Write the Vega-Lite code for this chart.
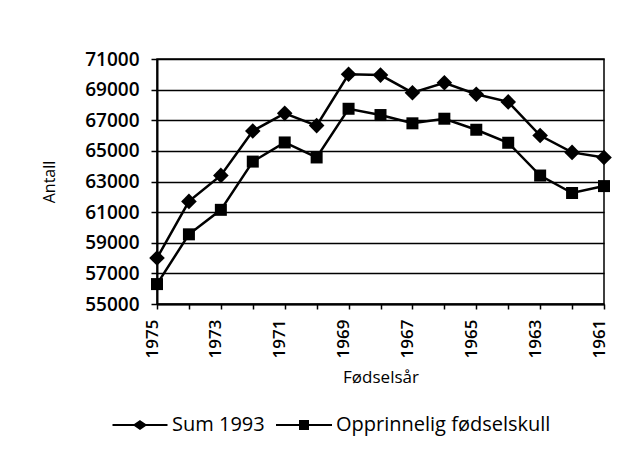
{
  "$schema": "https://vega.github.io/schema/vega-lite/v6.json",
  "width": 447,
  "height": 245,
  "autosize": {"type": "none"},
  "padding": {"left": 157, "top": 59, "right": 40, "bottom": 147},
  "background": "white",
  "config": {
    "font": "Open Sans",
    "view": {"stroke": "black", "strokeWidth": 1.5},
    "axis": {"labelColor": "black", "titleColor": "black", "domainColor": "black", "tickColor": "black", "gridColor": "black"}
  },
  "data": {
    "values": [
      {"year": 1975, "series": "Sum 1993", "value": 58000},
      {"year": 1974, "series": "Sum 1993", "value": 61700},
      {"year": 1973, "series": "Sum 1993", "value": 63400},
      {"year": 1972, "series": "Sum 1993", "value": 66300},
      {"year": 1971, "series": "Sum 1993", "value": 67450},
      {"year": 1970, "series": "Sum 1993", "value": 66650},
      {"year": 1969, "series": "Sum 1993", "value": 70000},
      {"year": 1968, "series": "Sum 1993", "value": 69950},
      {"year": 1967, "series": "Sum 1993", "value": 68800},
      {"year": 1966, "series": "Sum 1993", "value": 69450},
      {"year": 1965, "series": "Sum 1993", "value": 68700},
      {"year": 1964, "series": "Sum 1993", "value": 68200},
      {"year": 1963, "series": "Sum 1993", "value": 66000},
      {"year": 1962, "series": "Sum 1993", "value": 64900},
      {"year": 1961, "series": "Sum 1993", "value": 64570},
      {"year": 1975, "series": "Opprinnelig fødselskull", "value": 56300},
      {"year": 1974, "series": "Opprinnelig fødselskull", "value": 59550},
      {"year": 1973, "series": "Opprinnelig fødselskull", "value": 61150},
      {"year": 1972, "series": "Opprinnelig fødselskull", "value": 64300},
      {"year": 1971, "series": "Opprinnelig fødselskull", "value": 65550},
      {"year": 1970, "series": "Opprinnelig fødselskull", "value": 64570},
      {"year": 1969, "series": "Opprinnelig fødselskull", "value": 67750},
      {"year": 1968, "series": "Opprinnelig fødselskull", "value": 67340},
      {"year": 1967, "series": "Opprinnelig fødselskull", "value": 66800},
      {"year": 1966, "series": "Opprinnelig fødselskull", "value": 67100},
      {"year": 1965, "series": "Opprinnelig fødselskull", "value": 66380},
      {"year": 1964, "series": "Opprinnelig fødselskull", "value": 65530},
      {"year": 1963, "series": "Opprinnelig fødselskull", "value": 63390},
      {"year": 1962, "series": "Opprinnelig fødselskull", "value": 62250},
      {"year": 1961, "series": "Opprinnelig fødselskull", "value": 62700}
    ]
  },
  "encoding": {
    "x": {
      "field": "year",
      "type": "quantitative",
      "scale": {"domain": [1961, 1975], "reverse": true, "nice": false, "zero": false},
      "axis": {
        "title": "Fødselsår",
        "values": [1975, 1974, 1973, 1972, 1971, 1970, 1969, 1968, 1967, 1966, 1965, 1964, 1963, 1962, 1961],
        "labelExpr": "datum.value % 2 == 1 ? datum.label : ''",
        "format": "d",
        "labelAngle": -90,
        "labelBaseline": "alphabetic",
        "labelFontSize": 17,
        "labelFontWeight": 600,
        "labelPadding": 10,
        "labelOverlap": false,
        "tickSize": 5,
        "tickWidth": 1.5,
        "domainWidth": 2,
        "grid": false,
        "titleFontSize": 17,
        "titleFontWeight": 500,
        "titlePadding": 12
      }
    },
    "y": {
      "field": "value",
      "type": "quantitative",
      "scale": {"domain": [55000, 71000], "nice": false, "zero": false},
      "axis": {
        "title": "Antall",
        "values": [55000, 57000, 59000, 61000, 63000, 65000, 67000, 69000, 71000],
        "format": "d",
        "labelFontSize": 19,
        "labelFontWeight": 600,
        "labelPadding": 12,
        "tickSize": 6,
        "tickWidth": 1.5,
        "domainWidth": 2,
        "grid": true,
        "gridWidth": 1.5,
        "gridOpacity": 1,
        "titleFontSize": 16,
        "titleFontWeight": 500,
        "titlePadding": 27
      }
    }
  },
  "layer": [
    {
      "mark": {"type": "line", "color": "black", "strokeWidth": 2.5},
      "encoding": {"detail": {"field": "series"}}
    },
    {
      "mark": {"type": "point", "filled": true, "color": "black", "opacity": 1, "size": 144},
      "encoding": {
        "shape": {
          "field": "series",
          "type": "nominal",
          "scale": {"domain": ["Sum 1993", "Opprinnelig fødselskull"], "range": ["M0,-1.3L1.3,0L0,1.3L-1.3,0Z", "square"]},
          "legend": null
        }
      }
    },
    {
      "mark": {"type": "point", "filled": false, "color": "black", "strokeWidth": 2, "opacity": 0, "size": 100},
      "encoding": {
        "shape": {
          "field": "series",
          "type": "nominal",
          "scale": {"domain": ["Sum 1993", "Opprinnelig fødselskull"], "range": ["M-5.5,0L5.5,0M0,-0.75L1.1,0L0,0.75L-1.1,0ZM0,-0.5L0.73,0L0,0.5L-0.73,0ZM0,-0.25L0.36,0L0,0.25L-0.36,0Z", "M-5.6,0L5.6,0M-0.8,-0.8L0.8,-0.8L0.8,0.8L-0.8,0.8ZM-0.45,-0.45L0.45,-0.45L0.45,0.45L-0.45,0.45ZM-0.1,-0.1L0.1,-0.1L0.1,0.1L-0.1,0.1Z"]},
          "legend": {
            "title": null,
            "orient": "none",
            "direction": "horizontal",
            "legendX": -27,
            "legendY": 356,
            "symbolSize": 100,
            "symbolOpacity": 1,
            "symbolStrokeColor": "black",
            "symbolStrokeWidth": 2,
            "labelFontSize": 20,
            "labelFontWeight": 500,
            "labelColor": "black",
            "labelLimit": 400,
            "labelOffset": 22,
            "columnPadding": 7,
            "encode": {
              "symbols": {
                "update": {
                  "opacity": {"value": 1},
                  "stroke": {"value": "black"},
                  "strokeOpacity": {"value": 1},
                  "strokeWidth": {"value": 2}
                }
              }
            }
          }
        }
      }
    }
  ],
  "resolve": {"scale": {"shape": "independent"}}
}
